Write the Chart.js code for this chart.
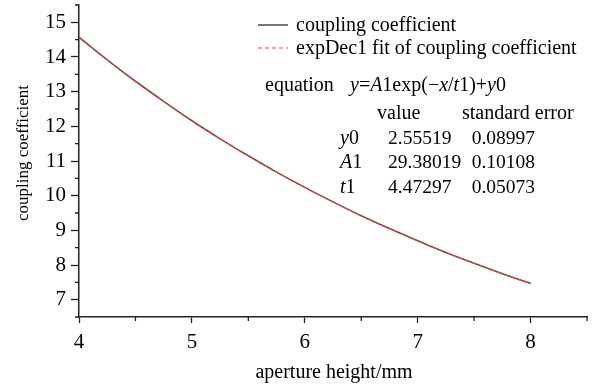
<!DOCTYPE html>
<html>
<head>
<meta charset="utf-8">
<script src="https://cdn.jsdelivr.net/npm/chart.js@4"></script>
<style>
html,body{margin:0;padding:0;background:#fff;}
#c{display:block;}
</style>
</head>
<body>
<canvas id="c" width="594" height="387"></canvas>
<script>
const apertureHeights = [4, 4.25, 4.5, 4.75, 5, 5.25, 5.5, 5.75, 6, 6.25, 6.5, 6.75, 7, 7.25, 7.5, 7.75, 8];
const couplingCoefficient = [14.57, 13.92, 13.30, 12.72, 12.16, 11.64, 11.15, 10.68, 10.24, 9.82, 9.42, 9.05, 8.70, 8.36, 8.05, 7.75, 7.47];
const fitCoupling = [14.57, 13.92, 13.30, 12.72, 12.16, 11.64, 11.15, 10.68, 10.24, 9.82, 9.42, 9.05, 8.70, 8.36, 8.05, 7.75, 7.47];
const xTickLabels = ['4', '5', '6', '7', '8'];
const yTickLabels = ['7', '8', '9', '10', '11', '12', '13', '14', '15'];
const seriesLabels = ['coupling coefficient', 'expDec1 fit of coupling coefficient'];
const fitHeader = ['value', 'standard error'];
const fitParams = ['y0', 'A1', 't1'];
const fitValues = ['2.55519', '29.38019', '4.47297'];
const fitErrors = ['0.08997', '0.10108', '0.05073'];

const FONT = "'Liberation Serif', 'Times New Roman', serif";
const AXIS = '#222';

const toPts = (ys) => ys.map((y, i) => ({x: apertureHeights[i], y}));

const overlay = {
  id: 'overlay',
  afterDraw(chart) {
    const ctx = chart.ctx;
    const xs = chart.scales.x, ys = chart.scales.y;
    ctx.save();
    // minor ticks
    ctx.strokeStyle = AXIS; ctx.lineWidth = 1.3;
    ctx.beginPath();
    for (let v = 4.5; v <= 8.5 + 1e-9; v += 1) {
      const px = xs.getPixelForValue(v);
      ctx.moveTo(px, xs.top); ctx.lineTo(px, xs.top + 4);
    }
    for (let v = 6.5; v <= 15.5 + 1e-9; v += 1) {
      const py = ys.getPixelForValue(v);
      ctx.moveTo(ys.right, py); ctx.lineTo(ys.right - 4, py);
    }
    ctx.stroke();

    // axis titles
    ctx.fillStyle = '#000';
    ctx.textAlign = 'center'; ctx.textBaseline = 'middle';
    ctx.font = '20px ' + FONT;
    ctx.fillText('aperture height/mm', 334, 373);
    ctx.save();
    ctx.translate(24, 153);
    ctx.rotate(-Math.PI / 2);
    ctx.font = '17px ' + FONT;
    ctx.fillText('coupling coefficient', 0, 0);
    ctx.restore();

    // legend
    const ds = chart.data.datasets;
    const legY = [25, 48];
    ds.forEach((d, i) => {
      ctx.save();
      ctx.strokeStyle = d.borderColor; ctx.lineWidth = d.borderWidth;
      ctx.setLineDash(d.borderDash || []);
      ctx.beginPath(); ctx.moveTo(258, legY[i]); ctx.lineTo(288, legY[i]); ctx.stroke();
      ctx.restore();
      ctx.textAlign = 'left'; ctx.textBaseline = 'middle';
      ctx.font = '20px ' + FONT; ctx.fillStyle = '#000';
      ctx.fillText(d.label, 296, legY[i] + 1);
    });

    // equation
    const R = '20px ' + FONT, I = 'italic 20px ' + FONT;
    ctx.textAlign = 'left'; ctx.textBaseline = 'middle';
    ctx.font = R; ctx.fillText('equation', 265, 86);
    const parts = [['y', I], ['=', R], ['A', I], ['1exp(\u2212', R], ['x', I], ['/', R], ['t', I], ['1)+', R], ['y', I], ['0', R]];
    let x = 350;
    parts.forEach(([t, f]) => { ctx.font = f; ctx.fillText(t, x, 86); x += ctx.measureText(t).width; });

    ctx.font = R;
    ctx.fillText(fitHeader[0], 377, 114);
    ctx.fillText(fitHeader[1], 462, 114);
    const rowsY = [139, 163, 188];
    fitParams.forEach((p, i) => {
      ctx.textAlign = 'left';
      ctx.font = I; ctx.fillText(p[0], 340, rowsY[i]);
      const w = ctx.measureText(p[0]).width;
      ctx.font = R; ctx.fillText(p.slice(1), 340 + w, rowsY[i]);
      ctx.font = '19.5px ' + FONT;
      ctx.fillText(fitValues[i], 388, rowsY[i]);
      ctx.textAlign = 'right';
      ctx.fillText(fitErrors[i], 535, rowsY[i]);
    });
    ctx.restore();
  }
};

new Chart(document.getElementById('c'), {
  type: 'line',
  data: {
    datasets: [
      {label: seriesLabels[0], data: toPts(couplingCoefficient), borderColor: '#555', borderWidth: 1.6, pointRadius: 0, cubicInterpolationMode: 'monotone', fill: false, order: 1},
      {label: seriesLabels[1], data: toPts(fitCoupling), borderColor: '#ff3b3b', borderWidth: 1.2, borderDash: [4, 3], pointRadius: 0, cubicInterpolationMode: 'monotone', fill: false, order: 0}
    ]
  },
  options: {
    responsive: false,
    animation: false,
    events: [],
    layout: {padding: {top: 5, right: 7, left: 0, bottom: 0}},
    plugins: {legend: {display: false}, tooltip: {enabled: false}},
    scales: {
      x: {
        type: 'linear', min: 4, max: 8.5,
        afterBuildTicks: (s) => { s.ticks = s.ticks.filter(t => xTickLabels.includes(String(t.value))); },
        afterFit: (s) => { s.height = 70; s.paddingLeft = 0; s.paddingRight = 0; },
        ticks: {stepSize: 0.5, color: '#000', font: {family: FONT, size: 21}, padding: 7, maxRotation: 0, autoSkip: false,
          callback: (v) => xTickLabels.includes(String(v)) ? String(v) : ''},
        grid: {drawOnChartArea: false, drawTicks: true, tickLength: 6, tickColor: AXIS, tickWidth: 1.3},
        border: {color: AXIS, width: 1.5}
      },
      y: {
        type: 'linear', min: 6.5, max: 15.5,
        afterBuildTicks: (s) => { s.ticks = s.ticks.filter(t => yTickLabels.includes(String(t.value))); },
        afterFit: (s) => { s.width = 79; s.paddingTop = 0; s.paddingBottom = 0; },
        ticks: {stepSize: 0.5, color: '#000', font: {family: FONT, size: 21}, padding: 5, autoSkip: false,
          callback: (v) => yTickLabels.includes(String(v)) ? String(v) : ''},
        grid: {drawOnChartArea: false, drawTicks: true, tickLength: 8, tickColor: AXIS, tickWidth: 1.3},
        border: {color: AXIS, width: 1.5}
      }
    }
  },
  plugins: [overlay]
});
</script>
</body>
</html>
